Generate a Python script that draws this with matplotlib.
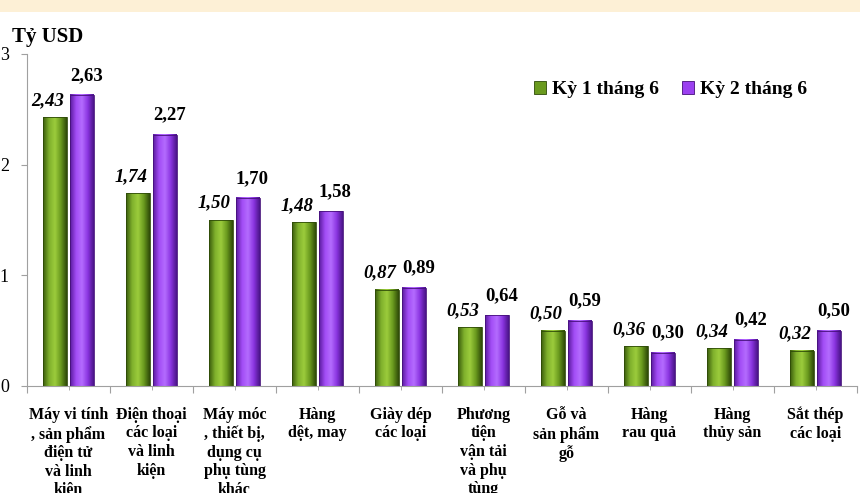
import matplotlib
matplotlib.use("Agg")
import matplotlib.pyplot as plt
import numpy as np
from matplotlib.patches import Rectangle
from matplotlib.colors import LinearSegmentedColormap

categories = [
    "Máy vi tính\n, sản phẩm\nđiện tử\nvà linh\nkiện",
    "Điện thoại\ncác loại\nvà linh\nkiện",
    "Máy móc\n, thiết bị,\ndụng cụ\nphụ tùng\nkhác",
    "Hàng\ndệt, may",
    "Giày dép\ncác loại",
    "Phương\ntiện\nvận tải\nvà phụ\ntùng",
    "Gỗ và\nsản phẩm\ngỗ",
    "Hàng\nrau quả",
    "Hàng\nthủy sản",
    "Sắt thép\ncác loại",
]
ky1 = [2.43, 1.74, 1.50, 1.48, 0.87, 0.53, 0.50, 0.36, 0.34, 0.32]
ky2 = [2.63, 2.27, 1.70, 1.58, 0.89, 0.64, 0.59, 0.30, 0.42, 0.50]
series_names = ["Kỳ 1 tháng 6", "Kỳ 2 tháng 6"]
yticks = [0, 1, 2, 3]

def fmt(v):
    return f"{v:.2f}".replace(".", ",")

plt.rcParams['font.family'] = ['Liberation Serif', 'DejaVu Serif']

fig = plt.figure(figsize=(8.6, 4.93), dpi=100)
fig.patch.set_facecolor("white")
fig.patches.append(Rectangle((0, 1 - 12/493), 1, 12/493, transform=fig.transFigure,
                             facecolor="#fdf0d6", edgecolor="none", zorder=0))

ax = fig.add_axes([27/860, 1 - 386/493, 830/860, (386 - 54)/493])
ax.set_facecolor("none")

x = np.arange(len(categories))
w = 0.28
off = 0.163

green_cmap = LinearSegmentedColormap.from_list("g", ["#3a5c0c", "#7fb02c", "#9ccc3c", "#6a9a1e", "#2f4a08"])
purple_cmap = LinearSegmentedColormap.from_list("p", ["#5a1a9e", "#a24cf5", "#b46cff", "#8a34e0", "#4a1488"])
grad = np.linspace(0, 1, 64).reshape(1, -1)

b1 = ax.bar(x - off, ky1, w, facecolor="none", edgecolor="#2e4a08", linewidth=0.6, zorder=3, label=series_names[0])
b2 = ax.bar(x + off, ky2, w, facecolor="none", edgecolor="#45107a", linewidth=0.6, zorder=3, label=series_names[1])

for bars, cmap in ((b1, green_cmap), (b2, purple_cmap)):
    for r in bars:
        x0, wd, h = r.get_x(), r.get_width(), r.get_height()
        ax.imshow(grad, cmap=cmap, extent=[x0, x0 + wd, 0, h], aspect="auto", zorder=2, interpolation="bilinear")

for r, v in zip(b1, ky1):
    ax.annotate(fmt(v), (r.get_x() + r.get_width()/2, r.get_height()), xytext=(-5, 6),
                textcoords="offset points", ha="center", va="bottom",
                fontsize=13.5, fontweight="bold", fontstyle="italic", color="black", zorder=5)
for r, v in zip(b2, ky2):
    ax.annotate(fmt(v), (r.get_x() + r.get_width()/2, r.get_height()), xytext=(3, 8),
                textcoords="offset points", ha="center", va="bottom",
                fontsize=13.5, fontweight="bold", color="black", zorder=5)

ax.set_xlim(-0.5, len(categories) - 0.5)
ax.set_ylim(0, 3)
ax.set_yticks(yticks)
ax.set_yticklabels([str(t) for t in yticks], fontsize=13)
ax.tick_params(axis="y", length=4, color="#a0a0a0", pad=9)
ax.set_xticks(np.arange(len(categories) + 1) - 0.5)
ax.set_xticklabels([])
ax.tick_params(axis="x", length=5, color="#a0a0a0")
ax.set_xticks(x, minor=True)
ax.set_xticklabels(categories, minor=True, fontsize=11.5, fontweight="bold", linespacing=1.22, va="top")
ax.tick_params(axis="x", which="minor", length=3, color="#a0a0a0", pad=12)

for s in ["top", "right"]:
    ax.spines[s].set_visible(False)
ax.spines["left"].set_color("#a0a0a0")
ax.spines["bottom"].set_color("#a0a0a0")

fig.text(12/860, 1 - 37/493, "Tỷ USD", fontsize=15, fontweight="bold", va="center", ha="left")

leg = ax.legend(loc="upper left", bbox_to_anchor=(0.59, 0.97), ncol=2, frameon=False,
                handlelength=0.6, handleheight=0.6, handletextpad=0.3, columnspacing=1.2,
                prop={"size": 14, "weight": "bold"})
leg.legend_handles[0].set_facecolor("#6a9a1e")
leg.legend_handles[1].set_facecolor("#9b40f0")

fig.savefig("out.png", dpi=100)
